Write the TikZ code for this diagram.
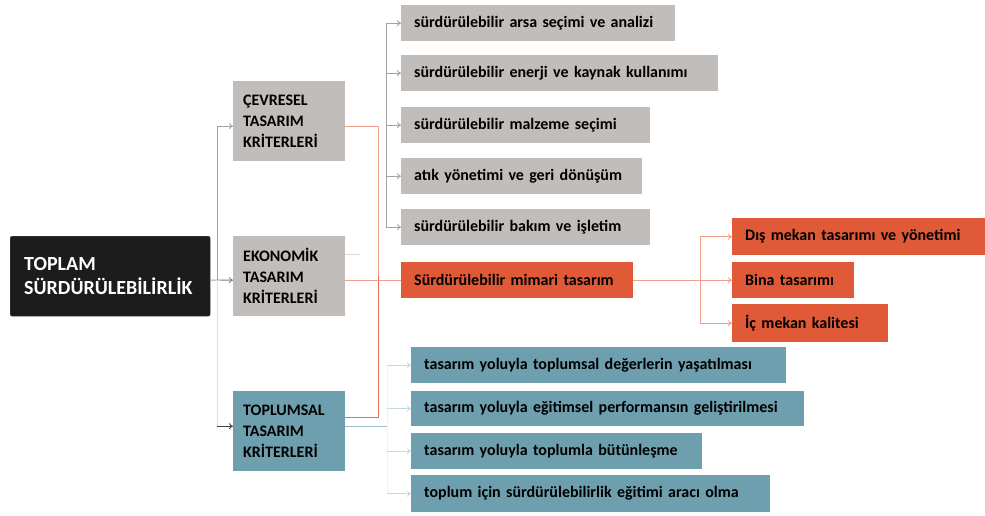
\documentclass[tikz,border=0pt]{standalone}
\usepackage{fontspec}
\setmainfont{Carlito}
\usetikzlibrary{arrows.meta}
\definecolor{graybox}{HTML}{C1BDBA}
\definecolor{orangebox}{HTML}{E15A37}
\definecolor{tealbox}{HTML}{6E9FAF}
\definecolor{rootbox}{HTML}{1C1C1C}
\definecolor{oline}{HTML}{F2A08E}
\definecolor{olinedark}{HTML}{EA6A4E}
\definecolor{gline}{HTML}{A3A3A3}
\definecolor{tline}{HTML}{9CC0CC}
\tikzset{
  boxbase/.style={anchor=north west, inner ysep=0pt, align=left, text=black},
  rootstyle/.style={boxbase, fill=rootbox, draw=black!70, rounded corners=2pt, inner xsep=14pt,
    text width=172pt, minimum height=80pt, text=white, font=\fontsize{20}{24}\selectfont\bfseries},
  catstyle/.style={boxbase, inner xsep=10pt, text width=92pt, minimum height=80pt,
    font=\fontsize{16}{21}\selectfont\bfseries},
  substyle/.style={boxbase, inner xsep=13pt, minimum height=36pt,
    font=\fontsize{16}{18}\selectfont\bfseries},
  arr/.style={-{To[length=4pt,width=6pt]}},
  gl/.style={draw=gline, line width=0.9pt},
  ol/.style={draw=oline, line width=0.9pt},
  tl/.style={draw=tline, line width=0.9pt},
}
\begin{document}
\begin{tikzpicture}[x=1pt,y=-1pt]
\useasboundingbox (0,0) rectangle (985,515);
% root
\node[rootstyle] (root) at (10,236) {TOPLAM\\SÜRDÜRÜLEBİLİRLİK};
% categories
\node[catstyle, fill=graybox] (cev) at (233,81) {ÇEVRESEL\\TASARIM\\KRİTERLERİ};
\node[catstyle, fill=graybox] (eko) at (233,236) {EKONOMİK\\TASARIM\\KRİTERLERİ};
\node[catstyle, fill=tealbox] (top) at (233,391) {TOPLUMSAL\\TASARIM\\KRİTERLERİ};
% gray sub boxes
\node[substyle, fill=graybox, text width=248pt] (s1) at (401,5) {sürdürülebilir arsa seçimi ve analizi};
\node[substyle, fill=graybox, text width=291pt] (s2) at (401,55) {sürdürülebilir enerji ve kaynak kullanımı};
\node[substyle, fill=graybox, text width=223pt] (s3) at (401,107) {sürdürülebilir malzeme seçimi};
\node[substyle, fill=graybox, text width=215pt] (s4) at (401,158) {atık yönetimi ve geri dönüşüm};
\node[substyle, fill=graybox, text width=223pt] (s5) at (401,209) {sürdürülebilir bakım ve işletim};
\node[substyle, fill=orangebox, text width=206pt] (mim) at (401,262) {Sürdürülebilir mimari tasarım};
% orange right boxes
\node[substyle, fill=orangebox, text width=227pt, minimum height=37pt] (dis) at (732,218) {Dış mekan tasarımı ve yönetimi};
\node[substyle, fill=orangebox, text width=96pt] (bina) at (732,262) {Bina tasarımı};
\node[substyle, fill=orangebox, text width=130pt, minimum height=38pt] (ic) at (732,304) {İç mekan kalitesi};
% teal boxes
\node[substyle, fill=tealbox, text width=349pt] (t1) at (411,347) {tasarım yoluyla toplumsal değerlerin yaşatılması};
\node[substyle, fill=tealbox, text width=367pt, minimum height=35pt] (t2) at (411,391) {tasarım yoluyla eğitimsel performansın geliştirilmesi};
\node[substyle, fill=tealbox, text width=265pt] (t3) at (411,433) {tasarım yoluyla toplumla bütünleşme};
\node[substyle, fill=tealbox, text width=333pt, minimum height=37pt] (t4) at (411,475) {toplum için sürdürülebilirlik eğitimi aracı olma};
% --- root tree
\coordinate (rj) at (217,280);
\coordinate (rcev) at ([yshift=-5pt]cev.west);
\coordinate (reko) at ([yshift=-4pt]eko.west);
\coordinate (rtop) at ([yshift=5pt]top.west);
\draw[gl] ([yshift=-4pt]root.east) -- (rj);
\draw[gl] (rj) -- (rj |- rcev);
\draw[gl, arr] (rj |- rcev) -- (rcev);
\draw[draw=black!50, line width=0.9pt, arr] (rj) -- (reko);
\draw[draw=black!12, line width=0.9pt] (rj) -- (rj |- rtop);
\draw[draw=black!75, line width=0.9pt, arr] (rj |- rtop) -- (rtop);
% --- gray sub tree
\coordinate (gx) at (386,0);
\draw[gl] (gx |- s1.west) -- (gx |- s5.west);
\foreach \n in {s1,s2,s3,s4,s5}{
  \draw[gl, arr] (gx |- \n.west) -- (\n.west);
}
% --- orange connector cev -> top
\coordinate (ox) at (378,0);
\coordinate (cevo) at ([yshift=-5pt]cev.east);
\coordinate (topo) at ([yshift=14pt]top.east);
\draw[ol] (cevo) -| (ox |- eko.east);
\draw[draw=olinedark, line width=1pt] (ox |- eko.east) -- (ox |- topo) -- (topo);
% --- eko connectors
\draw[ol] ([yshift=-4pt]eko.east) -- (mim.west);
\draw[draw=black!15, line width=0.9pt] ([yshift=22pt]eko.east) -- ++(15,0) coordinate (ekostub);
% --- orange right tree
\coordinate (rx) at (700,0);
\draw[ol] (mim.east) -- (rx |- mim.east);
\draw[ol] (rx |- dis.west) -- (rx |- ic.west);
\foreach \n in {dis,bina,ic}{
  \draw[ol, arr] (rx |- \n.west) -- (\n.west);
}
% --- teal tree
\coordinate (tx) at (387,0);
\coordinate (topt) at ([yshift=5pt]top.east);
\draw[tl] (topt) -- (tx |- topt);
\draw[draw=tline!20, line width=0.9pt] (tx |- t1.west) -- (tx |- t4.west);
\foreach \n in {t1,t2,t3,t4}{
  \draw[draw=tline!60, line width=0.9pt, arr] (tx |- \n.west) -- (\n.west);
}
\end{tikzpicture}
\end{document}
